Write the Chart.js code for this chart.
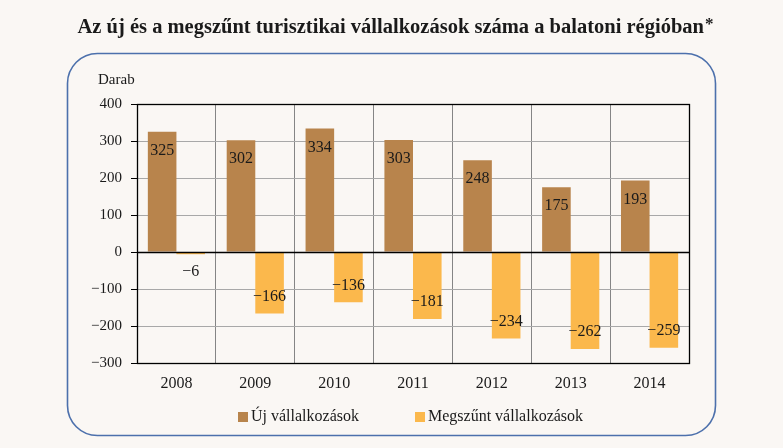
<!DOCTYPE html>
<html><head><meta charset="utf-8">
<script src="https://cdn.jsdelivr.net/npm/chart.js@4/dist/chart.umd.min.js"></script>
<style>html,body{margin:0;padding:0;background:#FAF7F4;} canvas{display:block}</style>
</head><body>
<canvas id="c" width="783" height="448"></canvas>
<script>
const years = ['2008','2009','2010','2011','2012','2013','2014'];
const newFirms = [325, 302, 334, 303, 248, 175, 193];
const closedFirms = [-6, -166, -136, -181, -234, -262, -259];
const yMin = -300, yMax = 400, yStep = 100;
const seriesNames = ['Új vállalkozások', 'Megszűnt vállalkozások'];
const titleText = 'Az új és a megszűnt turisztikai vállalkozások száma a balatoni régióban';
const titleMark = '*';
const yUnit = 'Darab';

const BROWN = '#B8844C', YELLOW = '#FBB84C', SERIF = '"Liberation Serif", "DejaVu Serif", serif';
const fmt = v => v < 0 ? '\u2212' + Math.abs(v) : String(v);

const decor = {
  id: 'decor',
  beforeDraw(chart) {
    const c = chart.ctx;
    c.save();
    c.fillStyle = '#FAF7F4';
    c.fillRect(0, 0, chart.width, chart.height);
    // rounded frame
    c.strokeStyle = '#4C70AC'; c.lineWidth = 1.6;
    c.beginPath(); c.roundRect(67.5, 53.5, 648, 382, 30); c.stroke();
    // title
    c.fillStyle = '#1a1a1a';
    c.font = 'bold 20.5px ' + SERIF;
    const tw = c.measureText(titleText).width;
    c.font = 'bold 17px ' + SERIF;
    const mw = c.measureText(titleMark).width;
    const x0 = 395 - (tw + mw) / 2;
    c.textBaseline = 'alphabetic'; c.textAlign = 'left';
    c.font = 'bold 20.5px ' + SERIF;
    c.fillText(titleText, x0, 33);
    c.font = 'bold 17px ' + SERIF;
    c.fillText(titleMark, x0 + tw + 1, 29);
    // unit
    c.font = '15px ' + SERIF;
    c.fillText(yUnit, 98, 84);
    // legend
    c.font = '16px ' + SERIF;
    c.textBaseline = 'middle';
    const legX = [238, 415];
    chart.data.datasets.forEach((ds, i) => {
      c.fillStyle = ds.backgroundColor;
      c.fillRect(legX[i], 412, 10, 10);
      c.fillStyle = '#1a1a1a';
      c.fillText(ds.label, legX[i] + 13, 417);
    });
    c.restore();
  },
  afterDatasetsDraw(chart) {
    const c = chart.ctx, a = chart.chartArea, ys = chart.scales.y;
    c.save();
    // zero line & frame
    c.strokeStyle = '#000'; c.lineWidth = 1.3;
    const y0 = Math.round(ys.getPixelForValue(0)) + 0.5;
    c.beginPath(); c.moveTo(a.left, y0); c.lineTo(a.right, y0); c.stroke();
    c.strokeRect(Math.round(a.left)+0.5, Math.round(a.top)+0.5, Math.round(a.right - a.left), Math.round(a.bottom - a.top));
    // data labels
    c.font = '16px ' + SERIF; c.fillStyle = '#1a1a1a';
    c.textAlign = 'center'; c.textBaseline = 'middle';
    chart.data.datasets.forEach((ds, di) => {
      chart.getDatasetMeta(di).data.forEach((el, i) => {
        const v = ds.data[i];
        let ty;
        if (v >= 0) ty = el.y + 19;
        else ty = (el.y - el.base > 34) ? el.y - 17 : el.y + 18;
        c.fillText(fmt(v), el.x, ty);
      });
    });
    c.restore();
  }
};

new Chart(document.getElementById('c'), {
  type: 'bar',
  data: {
    labels: years,
    datasets: [
      { label: seriesNames[0], data: newFirms, backgroundColor: BROWN },
      { label: seriesNames[1], data: closedFirms, backgroundColor: YELLOW }
    ]
  },
  options: {
    responsive: false, animation: false, devicePixelRatio: 1,
    layout: { padding: { left: 0, top: 104, right: 94, bottom: 0 } },
    plugins: { legend: { display: false }, title: { display: false }, tooltip: { enabled: false } },
    datasets: { bar: { categoryPercentage: 0.725, barPercentage: 1 } },
    scales: {
      x: {
        afterFit(s) { s.height = 85; },
        grid: { color: '#858585', lineWidth: 1, drawTicks: false, offset: true },
        border: { display: false },
        ticks: { color: '#1a1a1a', font: { family: SERIF, size: 16 }, padding: 11, maxRotation: 0 }
      },
      y: {
        min: yMin, max: yMax,
        afterFit(s) { s.width = 137; },
        grid: { color: '#a8a8a8', lineWidth: 1, drawTicks: true, tickLength: 6, tickColor: '#000' },
        border: { display: false },
        ticks: { stepSize: yStep, color: '#1a1a1a', font: { family: SERIF, size: 15 }, padding: 9, callback: v => fmt(v) }
      }
    }
  },
  plugins: [decor]
});
</script>
</body></html>
